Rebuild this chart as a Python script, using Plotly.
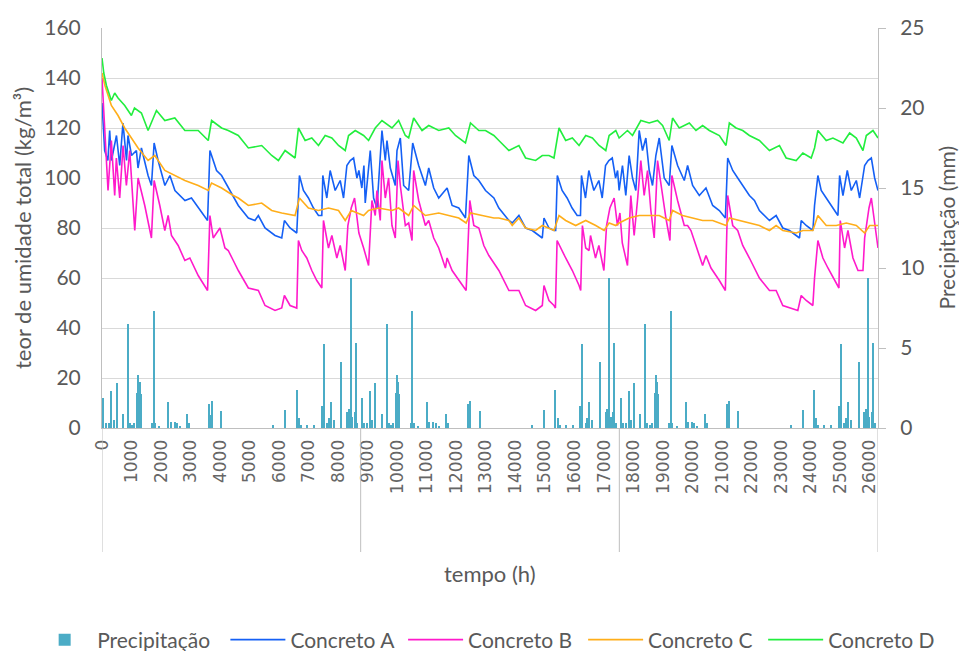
import plotly.graph_objects as go

# ---------------- data ----------------
# Concreto A
a_hours = [0, 90, 200, 260, 320, 490, 600, 710, 830, 880, 1000, 1165, 1220, 1335, 1560, 1675, 1765, 1900, 2130, 2300,
           2470, 2810, 3030, 3260, 3575, 3655, 3880, 4050, 4280, 4450, 4616, 4956, 5180, 5295, 5521, 5860, 6087, 6177,
           6369, 6596, 6686, 6822, 6991, 7161, 7331, 7444, 7478, 7614, 7727, 7897, 8067, 8180, 8293, 8406, 8520, 8633,
           8700, 8800, 8870, 8915, 9085, 9198, 9311, 9481, 9594, 9651, 9764, 9933, 9990, 10103, 10216, 10386, 10522,
           10725, 10952, 11065, 11234, 11404, 11687, 11857, 12083, 12309, 12422, 12592, 12762, 12988, 13271, 13440,
           13780, 13893, 14119, 14345, 14572, 14798, 14911, 14968, 15137, 15307, 15364, 15420, 15582, 15751, 15921,
           16091, 16204, 16238, 16374, 16487, 16657, 16827, 16940, 17053, 17166, 17280, 17393, 17460, 17513, 17626,
           17739, 17852, 17966, 18079, 18192, 18305, 18418, 18531, 18644, 18757, 18871, 19040, 19210, 19300, 19493,
           19719, 19832, 20002, 20228, 20454, 20681, 20907, 21111, 21190, 21360, 21529, 21755, 21925, 22095, 22264,
           22604, 22830, 23056, 23283, 23509, 23622, 23679, 23848, 24074, 24131, 24244, 24357, 24527, 24753, 24923,
           24980, 25093, 25240, 25375, 25545, 25658, 25828, 25941, 26054, 26167, 26280]
a_vals = [130, 111, 107, 119, 107, 117, 105, 122, 107, 117, 109, 111, 104, 112, 101, 97, 114, 107, 97, 101,
          95, 91, 92, 88, 83, 111, 103, 101, 96, 92, 89, 84, 83, 85, 80, 77, 76, 83,
          80, 78, 101, 95, 92, 88, 85, 85, 101, 92, 103, 95, 99, 92, 105, 107, 108, 100,
          103, 96, 105, 90, 111, 92, 88, 119, 107, 115, 104, 97, 111, 116, 97, 95, 114,
          105, 97, 104, 96, 92, 96, 89, 88, 84, 109, 101, 99, 95, 92, 88,
          83, 82, 85, 80, 79, 77, 76, 84, 80, 79, 79, 101, 95, 92, 88,
          85, 85, 101, 92, 103, 95, 99, 92, 105, 107, 108, 100, 103, 95, 105,
          93, 109, 100, 95, 119, 111, 116, 103, 97, 109, 116, 100, 97, 113, 105,
          99, 105, 97, 93, 96, 89, 87, 84, 108, 103, 100, 96, 93, 91, 87,
          83, 85, 80, 79, 77, 76, 83, 81, 79, 89, 101, 95, 92, 88, 85,
          101, 93, 103, 95, 99, 92, 105, 107, 108, 100, 95]

# Concreto B
b_hours = [0, 147, 204, 317, 430, 486, 600, 713, 826, 939, 1109, 1222, 1335, 1448, 1674, 1765, 1957, 2127, 2240, 2353,
           2579, 2806, 2975, 3258, 3575, 3654, 3767, 3994, 4163, 4276, 4446, 4616, 4956, 5295, 5521, 5860, 6087, 6177,
           6369, 6596, 6652, 6765, 6935, 7105, 7274, 7444, 7500, 7670, 7784, 7953, 8067, 8237, 8327, 8440, 8553, 8600,
           8700, 8860, 9028, 9141, 9254, 9311, 9424, 9481, 9594, 9707, 9820, 9933, 10024, 10103, 10273, 10386, 10499,
           10555, 10725, 10952, 11065, 11234, 11404, 11630, 11687, 11857, 12083, 12332, 12456, 12592, 12762, 12931,
           13101, 13271, 13440, 13780, 14119, 14345, 14685, 14911, 14968, 15137, 15307, 15356, 15412, 15703, 15929,
           16156, 16212, 16269, 16382, 16495, 16544, 16713, 16827, 16997, 17087, 17200, 17343, 17456, 17540, 17620,
           17683, 17796, 17909, 18022, 18135, 18248, 18361, 18475, 18588, 18701, 18814, 18927, 19097, 19233, 19300,
           19493, 19719, 19832, 19945, 20115, 20341, 20454, 20624, 20907, 21111, 21190, 21360, 21529, 21699, 21925,
           22095, 22264, 22604, 22830, 23056, 23283, 23565, 23679, 23848, 24074, 24131, 24244, 24414, 24584, 24810,
           24957, 25002, 25149, 25262, 25432, 25602, 25771, 25828, 25975, 26054, 26167, 26280]
b_vals = [140, 108, 95, 115, 93, 108, 92, 113, 97, 111, 79, 100, 95, 89, 76, 99, 89, 79, 85, 77,
          73, 67, 68, 61, 55, 85, 76, 80, 72, 71, 67, 63, 56, 55, 49, 47, 48, 53,
          49, 48, 75, 71, 68, 63, 59, 56, 83, 72, 77, 68, 73, 63, 81, 88, 92, 88,
          78, 72, 65, 91, 85, 95, 83, 107, 92, 100, 81, 76, 107, 97, 81, 82, 75,
          103, 91, 81, 83, 76, 72, 64, 68, 63, 59, 55, 91, 81, 80, 73,
          69, 66, 63, 55, 55, 49, 47, 49, 57, 51, 49, 48, 75, 68, 63,
          57, 55, 81, 72, 71, 77, 68, 73, 63, 81, 88, 92, 81, 86, 74,
          71, 65, 93, 77, 91, 107, 93, 103, 87, 76, 107, 97, 84, 75, 101,
          91, 81, 81, 79, 73, 65, 69, 64, 59, 55, 93, 81, 79, 73, 68,
          64, 60, 55, 55, 49, 48, 47, 53, 51, 49, 60, 75, 68, 64, 59,
          56, 83, 72, 79, 68, 63, 63, 76, 88, 92, 81, 72]

# Concreto C
c_hours = [0, 100, 317, 543, 769, 996, 1222, 1561, 1787, 2127, 2466, 2806, 3258, 3598, 3711, 4050, 4446, 4616, 4956,
           5408, 5747, 6087, 6539, 6686, 6991, 7331, 7670, 8010, 8237, 8440, 8859, 9028, 9368, 9820, 10046, 10386,
           10555, 10952, 11404, 11744, 12083, 12332, 12479, 12875, 13271, 13440, 13780, 13893, 14119, 14345, 14685,
           14911, 15137, 15307, 15477, 15703, 16042, 16382, 16721, 17004, 17174, 17400, 17513, 17852, 18192, 18531,
           18871, 19210, 19323, 19662, 20002, 20341, 20681, 21133, 21246, 21586, 21925, 22264, 22604, 22830, 23056,
           23509, 23735, 24074, 24244, 24527, 24866, 25206, 25545, 25828, 25997, 26280]
c_vals = [142, 137, 129, 125, 120, 116, 112, 107, 109, 103, 101, 99, 97, 95, 98, 96, 93, 92, 89,
          90, 87, 86, 85, 92, 88, 87, 88, 87, 83, 87, 85, 87, 88, 87, 88, 85,
          89, 85, 86, 85, 84, 82, 86, 85, 84, 84, 83, 81, 84, 80, 79,
          81, 80, 79, 85, 83, 81, 83, 81, 79, 82, 81, 82, 84, 85, 85,
          85, 83, 87, 85, 84, 83, 83, 81, 84, 83, 82, 81, 79, 81, 79,
          78, 79, 79, 85, 81, 81, 82, 81, 78, 81, 81]

# Concreto D
d_hours = [0, 60, 150, 317, 430, 543, 769, 996, 1100, 1335, 1561, 1844, 2127, 2466, 2806, 3258, 3598, 3711, 4050,
           4276, 4616, 4956, 5408, 5747, 5974, 6200, 6539, 6652, 6879, 7105, 7331, 7558, 7784, 8010, 8237, 8350,
           8576, 8859, 9028, 9254, 9481, 9820, 10046, 10273, 10386, 10555, 10838, 11065, 11404, 11744, 11970, 12309,
           12479, 12762, 12988, 13271, 13440, 13780, 14119, 14345, 14685, 14911, 15137, 15307, 15477, 15703, 15929,
           16156, 16382, 16608, 16834, 17061, 17174, 17400, 17513, 17796, 17966, 18248, 18531, 18814, 18984, 19210,
           19323, 19549, 19889, 20115, 20341, 20568, 20907, 21133, 21246, 21473, 21699, 21925, 22264, 22604, 22943,
           23169, 23509, 23735, 24018, 24131, 24244, 24527, 24753, 25093, 25319, 25545, 25771, 25884, 26110, 26280]
d_vals = [148, 142, 137, 131, 134, 132, 129, 125, 128, 126, 119, 127, 123, 124, 119, 119, 115, 123, 120,
          119, 117, 112, 113, 109, 107, 111, 108, 120, 115, 116, 113, 117, 116, 113, 111, 117,
          119, 117, 115, 120, 123, 120, 123, 117, 116, 124, 119, 121, 119, 120, 117, 114,
          122, 119, 119, 117, 115, 111, 113, 108, 107, 109, 109, 108, 120, 115, 116,
          113, 117, 116, 113, 111, 117, 119, 116, 119, 117, 123, 122, 123, 121, 115,
          124, 120, 122, 119, 121, 119, 117, 113, 122, 120, 119, 117, 115, 111, 113,
          108, 107, 110, 108, 112, 119, 115, 116, 114, 118, 116, 111, 117, 119, 116]

# Precipitação (mm) events, year 1, 2 and 3
p_hours_y1 = [45, 130, 230, 320, 400, 500, 720, 890, 950, 1030, 1100, 1200, 1240, 1280, 1320, 1700, 1760, 1800, 1950,
              2250, 2330, 2470, 2540, 2650, 2900, 2960, 3640, 3680, 3720, 4040, 5810, 6210, 6600, 6680, 6740, 6950,
              7190, 7450, 7510, 7620, 7680, 7750, 7850, 8110, 8300, 8360, 8430, 8470, 8560, 8600, 8650]
p_mm_y1 = [1.9, 0.3, 0.3, 2.3, 0.5, 2.8, 0.9, 6.5, 0.3, 0.2, 0.3, 2.2, 3.3, 2.85, 2.15, 0.3, 7.3, 0.3, 0.1,
           1.65, 0.4, 0.4, 0.3, 0.1, 0.9, 0.3, 1.5, 0.8, 1.7, 1.05, 0.2, 1.15, 2.4, 0.6, 0.2, 0.2,
           0.2, 1.4, 5.25, 0.3, 0.6, 1.6, 0.5, 4.1, 1.0, 1.2, 9.35, 0.7, 1.0, 5.3, 0.3]
p_hours_y2 = [8805, 8890, 8990, 9080, 9160, 9260, 9480, 9650, 9710, 9790, 9860, 9960, 10000, 10040, 10080, 10460, 10520,
              10560, 10710, 11010, 11090, 11230, 11300, 11410, 11660, 11720, 12400, 12440, 12480, 12800, 14570, 14970,
              15360, 15440, 15500, 15710, 15950, 16210, 16270, 16380, 16440, 16510, 16610, 16870, 17060, 17120, 17190,
              17230, 17320, 17360, 17410]
p_mm_y2 = [1.9, 0.3, 0.3, 2.3, 0.5, 2.8, 0.9, 6.5, 0.3, 0.2, 0.3, 2.2, 3.3, 2.85, 2.15, 0.3, 7.3, 0.3, 0.1,
           1.65, 0.4, 0.4, 0.3, 0.1, 0.9, 0.3, 1.5, 0.8, 1.7, 1.05, 0.2, 1.15, 2.4, 0.6, 0.2, 0.2,
           0.2, 1.4, 5.25, 0.3, 0.6, 1.6, 0.5, 4.1, 1.0, 1.2, 9.35, 0.7, 1.0, 5.3, 0.3]
p_hours_y3 = [17565, 17650, 17750, 17840, 17920, 18020, 18240, 18410, 18470, 18550, 18620, 18720, 18760, 18800, 18840,
              19220, 19280, 19320, 19470, 19770, 19850, 19990, 20060, 20170, 20420, 20480, 21160, 21200, 21240, 21560,
              23330, 23730, 24120, 24200, 24260, 24470, 24710, 24970, 25030, 25140, 25200, 25270, 25370, 25630, 25820,
              25880, 25950, 25990, 26080, 26120, 26170]
p_mm_y3 = [1.9, 0.3, 0.3, 2.3, 0.5, 2.8, 0.9, 6.5, 0.3, 0.2, 0.3, 2.2, 3.3, 2.85, 2.15, 0.3, 7.3, 0.3, 0.1,
           1.65, 0.4, 0.4, 0.3, 0.1, 0.9, 0.3, 1.5, 0.8, 1.7, 1.05, 0.2, 1.15, 2.4, 0.6, 0.2, 0.2,
           0.2, 1.4, 5.25, 0.3, 0.6, 1.6, 0.5, 4.1, 1.0, 1.2, 9.35, 0.7, 1.0, 5.3, 0.3]

x_ticks = list(range(0, 26001, 1000))
year_bounds = [0, 8760, 17520, 26280]

# ---------------- figure ----------------
GREY = '#595959'
AXIS = '#bfbfbf'
TITLE_FONT = 'Lato'

fig = go.Figure()
fig.add_trace(go.Bar(
    x=p_hours_y1 + p_hours_y2 + p_hours_y3, y=p_mm_y1 + p_mm_y2 + p_mm_y3,
    name='Precipitação', yaxis='y2', width=45, legend='legend',
    marker=dict(color='#4BACC6', line=dict(width=0))))

series = [('Concreto A', a_hours, a_vals, '#1560F5', 'legend2'),
          ('Concreto B', b_hours, b_vals, '#FF1ACB', 'legend3'),
          ('Concreto C', c_hours, c_vals, '#FFAE1A', 'legend4'),
          ('Concreto D', d_hours, d_vals, '#22EE3E', 'legend5')]
for name, h, v, col, lg in series:
    fig.add_trace(go.Scatter(x=h, y=v, mode='lines', name=name, legend=lg,
                             line=dict(color=col, width=1.6)))

for xb in year_bounds:
    fig.add_shape(type='line', xref='x', yref='paper', x0=xb, x1=xb, y0=0, y1=-0.31,
                  line=dict(color=AXIS, width=1))


def legend_box(x):
    return dict(orientation='h', x=x, xanchor='left', y=-0.53, yanchor='middle',
                font=dict(family=TITLE_FONT, size=21, color=GREY),
                itemwidth=55, bgcolor='rgba(0,0,0,0)')


fig.update_layout(
    width=959, height=651,
    margin=dict(l=102, r=81, t=28, b=223, autoexpand=False),
    paper_bgcolor='white', plot_bgcolor='white',
    font=dict(family=TITLE_FONT, color=GREY),
    bargap=0,
    showlegend=True,
    xaxis=dict(range=[0, 26280], tickvals=x_ticks, ticktext=[str(t) for t in x_ticks],
               tickangle=-90, tickfont=dict(family='DejaVu Sans', size=17, color='#666666'),
               showline=True, linecolor=AXIS, linewidth=1, showgrid=False, zeroline=False,
               ticks='', ticklabelstandoff=4),
    yaxis=dict(range=[0, 160], dtick=20, tickfont=dict(family=TITLE_FONT, size=21, color=GREY),
               showline=True, linecolor=AXIS, showgrid=True, gridcolor='#d9d9d9', gridwidth=1,
               zeroline=False, ticks='', ticklabelstandoff=16),
    yaxis2=dict(range=[0, 25], dtick=5, overlaying='y', side='right',
                tickfont=dict(family=TITLE_FONT, size=21, color=GREY),
                showline=True, linecolor=AXIS, showgrid=False, zeroline=False,
                ticks='outside', ticklen=7, tickcolor=AXIS, ticklabelstandoff=10),
    legend=legend_box(-0.090),
    legend2=legend_box(0.159),
    legend3=legend_box(0.388),
    legend4=legend_box(0.620),
    legend5=legend_box(0.852),
    annotations=[
        dict(text='teor de umidade total (kg/m³)', xref='paper', yref='paper', x=-0.1031, y=0.5,
             textangle=-90, showarrow=False, font=dict(family=TITLE_FONT, size=22, color=GREY),
             xanchor='center', yanchor='middle'),
        dict(text='Precipitação (mm)', xref='paper', yref='paper', x=1.087, y=0.5,
             textangle=-90, showarrow=False, font=dict(family=TITLE_FONT, size=21, color=GREY),
             xanchor='center', yanchor='middle'),
        dict(text='tempo (h)', xref='paper', yref='paper', x=0.5, y=-0.3625,
             showarrow=False, font=dict(family=TITLE_FONT, size=22, color=GREY),
             xanchor='center', yanchor='middle'),
    ],
)

fig.write_html('out.html')
